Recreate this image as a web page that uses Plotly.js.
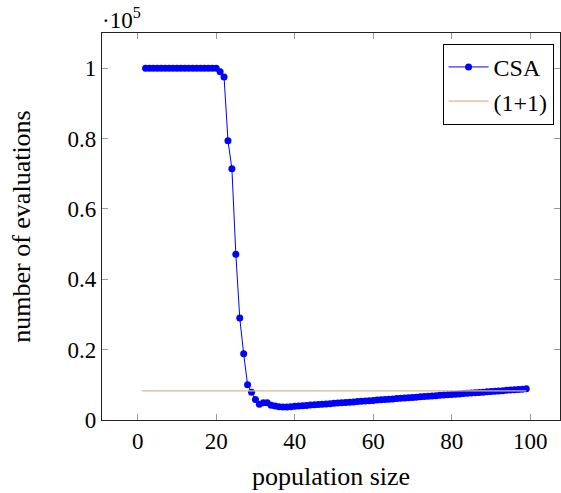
<!DOCTYPE html>
<html>
<head>
<meta charset="utf-8">
<script src="https://cdn.plot.ly/plotly-3.0.1.min.js"></script>
<style>html,body{margin:0;padding:0;background:#fff;}#chart{width:561px;height:493px;}</style>
</head>
<body>
<div id="chart"></div>
<script>
// population sizes for CSA
const csaX = [2,3,4,5,6,7,8,9,10,11,12,13,14,15,16,17,18,19,20,21,22,23,24,25,26,27,28,29,30,
  31,32,33,34,35,36,37,38,39,40,41,42,43,44,45,46,47,48,49,50,51,52,53,54,55,56,57,58,59,60,
  61,62,63,64,65,66,67,68,69,70,71,72,73,74,75,76,77,78,79,80,81,82,83,84,85,86,87,88,89,90,
  91,92,93,94,95,96,97,98,99];
// number of evaluations for CSA
const csaY = [100000,100000,100000,100000,100000,100000,100000,100000,100000,100000,
  100000,100000,100000,100000,100000,100000,100000,100000,100000,
  99000,97500,79400,71400,47100,29000,18800,10000,7900,5800,
  4500,4900,4900,4200,4000,3800,3700,3700,3800,3900,
  3980,4060,4150,4230,4320,4400,4480,4570,4650,4730,
  4820,4900,4990,5070,5150,5240,5320,5400,5490,5570,
  5660,5740,5820,5910,5990,6080,6160,6240,6330,6410,
  6500,6580,6660,6750,6830,6920,7000,7080,7170,7250,
  7340,7420,7500,7590,7670,7760,7840,7920,8010,8090,
  8180,8260,8340,8430,8510,8600,8680,8760,8850];
// (1+1) reference
const onePlusOneX = [1, 99];
const onePlusOneY = [8300, 8300];
// tick labels
const yTickVals = [0, 20000, 40000, 60000, 80000, 100000];
const yTickText = ['0', '0.2', '0.4', '0.6', '0.8', '1'];
const xTickVals = [0, 20, 40, 60, 80, 100];
const xTickText = ['0', '20', '40', '60', '80', '100'];

const FONT = 'Liberation Serif, DejaVu Serif, serif';

const traces = [
  {
    x: csaX, y: csaY, name: 'CSA', type: 'scatter', mode: 'lines+markers',
    line: {color: '#0000ff', width: 1},
    marker: {color: '#0000ff', size: 7}
  },
  {
    x: onePlusOneX, y: onePlusOneY, name: '(1+1)', type: 'scatter', mode: 'lines',
    line: {color: '#d9b893', width: 1.2}
  }
];

const layout = {
  width: 561, height: 493,
  margin: {l: 102, r: 1, t: 33, b: 73},
  paper_bgcolor: '#fff', plot_bgcolor: '#fff',
  font: {family: FONT, size: 23, color: '#000'},
  showlegend: true,
  legend: {
    x: 0.986, y: 0.972, xanchor: 'right', yanchor: 'top',
    bordercolor: '#000', borderwidth: 1, bgcolor: '#fff',
    font: {family: FONT, size: 24, color: '#000'},
    tracegroupgap: 0, itemwidth: 40
  },
  xaxis: {
    range: [-9.1, 107.6],
    tickvals: xTickVals, ticktext: xTickText,
    ticks: 'inside', ticklen: 6, tickcolor: '#999', tickwidth: 1,
    showline: true, linecolor: '#222', linewidth: 1.2, mirror: 'allticks',
    showgrid: false, zeroline: false,
    tickfont: {family: FONT, size: 23},
    title: {text: 'population size', font: {family: FONT, size: 26}, standoff: 14}
  },
  yaxis: {
    range: [0, 110000],
    tickvals: yTickVals, ticktext: yTickText,
    ticks: 'inside', ticklen: 6, tickcolor: '#999', tickwidth: 1,
    showline: true, linecolor: '#222', linewidth: 1.2, mirror: 'allticks',
    showgrid: false, zeroline: false,
    tickfont: {family: FONT, size: 23},
    title: {text: 'number of evaluations', font: {family: FONT, size: 26}, standoff: 29}
  },
  annotations: [{
    text: '·10<sup>5</sup>', xref: 'paper', yref: 'paper', x: -0.004, y: 1.0,
    xanchor: 'left', yanchor: 'bottom', yshift: -2, showarrow: false,
    font: {family: FONT, size: 23, color: '#000'}
  }]
};

Plotly.newPlot('chart', traces, layout, {staticPlot: true, displayModeBar: false});
</script>
</body>
</html>
